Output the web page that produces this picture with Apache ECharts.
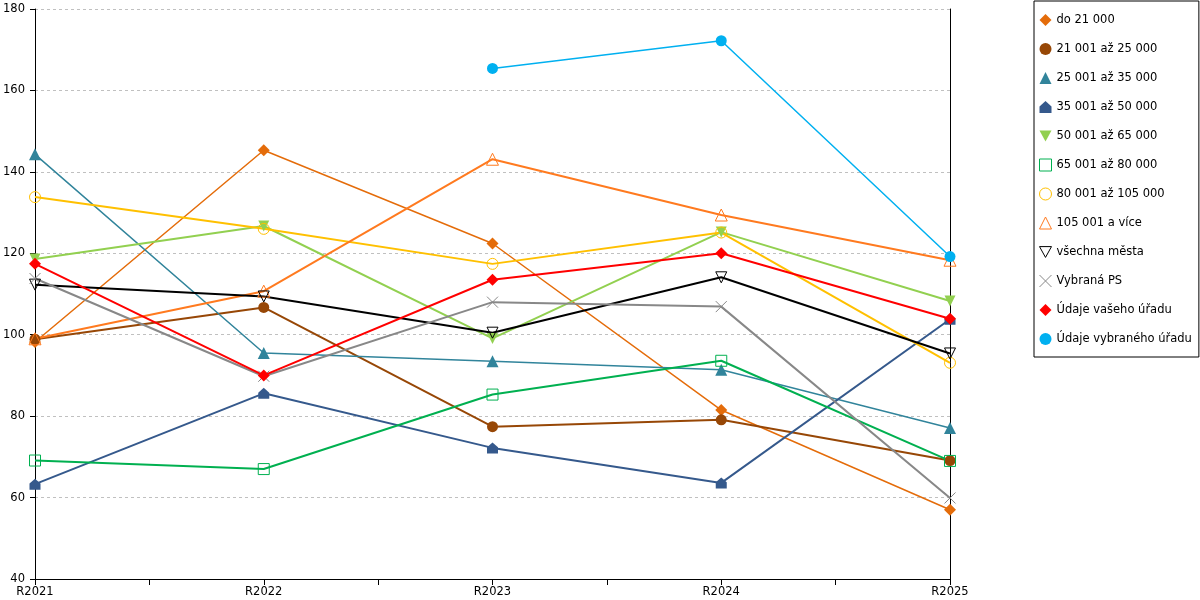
<!DOCTYPE html>
<html>
<head>
<meta charset="utf-8">
<script src="https://cdn.jsdelivr.net/npm/echarts@6/dist/echarts.min.js"></script>
<style>
  html, body { margin: 0; padding: 0; background: #fff; }
  #chart { width: 1200px; height: 600px; }
</style>
</head>
<body>
<div id="chart"></div>
<script>
const years = ['R2021', 'R2022', 'R2023', 'R2024', 'R2025'];

const do21000 = [98.2, 145.3, 122.4, 81.5, 57.0];
const s21to25 = [98.9, 106.7, 77.4, 79.1, 69.1];
const s25to35 = [144.3, 95.5, 93.5, 91.4, 77.1];
const s35to50 = [63.3, 85.6, 72.2, 63.6, 103.8];
const s50to65 = [118.6, 126.7, 99.1, 125.2, 108.3];
const s65to80 = [69.1, 67.0, 85.3, 93.6, 69.0];
const s80to105 = [133.8, 126.0, 117.4, 125.1, 93.1];
const s105plus = [99.0, 110.7, 143.1, 129.4, 118.3];
const vsechnaMesta = [112.3, 109.4, 100.5, 114.1, 95.4];
const vybranaPS = [113.8, 89.8, 108.0, 106.9, 59.9];
const vasUrad = [117.4, 90.0, 113.5, 120.0, 103.9];
const vybranyUrad = [null, null, 165.4, 172.2, 119.2];

const HOUSE = 'path://M5,0L10,4.5L10,10L0,10L0,4.5Z';
const DOWN = 'path://M0,0L10,0L5,9Z';
const CROSS = 'path://M0,0L10,10M10,0L0,10';

// name, data, colour, symbol, hollow, line width, symbol size
const seriesDefs = [
  ['do 21 000', do21000, '#E46C0A', 'diamond', false, 1.5, 12],
  ['21 001 až 25 000', s21to25, '#974706', 'circle', false, 2, 11],
  ['25 001 až 35 000', s25to35, '#31849B', 'triangle', false, 1.5, 12],
  ['35 001 až 50 000', s35to50, '#35598C', HOUSE, false, 2, 11],
  ['50 001 až 65 000', s50to65, '#92D050', DOWN, false, 2, 11],
  ['65 001 až 80 000', s65to80, '#00B050', 'rect', true, 2, 11],
  ['80 001 až 105 000', s80to105, '#FFC000', 'circle', true, 2, 11],
  ['105 001 a více', s105plus, '#FF7A1F', 'triangle', true, 2, 12],
  ['všechna města', vsechnaMesta, '#000000', DOWN, true, 2, 11],
  ['Vybraná PS', vybranaPS, '#888888', CROSS, true, 2, 11],
  ['Údaje vašeho úřadu', vasUrad, '#FF0000', 'diamond', false, 2, 12],
  ['Údaje vybraného úřadu', vybranyUrad, '#00B0F0', 'circle', false, 1.5, 11]
];

const FONT = 'DejaVu Sans';

const series = seriesDefs.map(([name, vals, color, symbol, hollow, width, size]) => ({
  name: name,
  type: 'line',
  data: vals.map((v, i) => [i, v]),
  symbol: symbol,
  symbolSize: size,
  showSymbol: true,
  connectNulls: false,
  lineStyle: { color: color, width: width },
  itemStyle: hollow
    ? { color: 'rgba(255,255,255,0)', borderColor: color, borderWidth: 1 }
    : { color: color, borderWidth: 0 },
  emphasis: { disabled: true },
  animation: false
}));

const chart = echarts.init(document.getElementById('chart'));
chart.setOption({
  backgroundColor: '#fff',
  textStyle: { fontFamily: FONT },
  grid: { left: 35, right: 250, top: 9, bottom: 21, containLabel: false },
  legend: {
    orient: 'vertical',
    left: 1034,
    top: 1,
    padding: [12, 7, 11, 5],
    itemGap: 15,
    itemWidth: 12,
    itemHeight: 12,
    itemStyle: { borderWidth: 1 },
    borderColor: '#000',
    borderWidth: 1,
    textStyle: { fontFamily: FONT, fontSize: 11.5, color: '#000', lineHeight: 14 },
    data: seriesDefs.map(d => ({
      name: d[0],
      icon: d[3],
      itemStyle: d[4] ? { borderWidth: 1 } : { borderWidth: 0 }
    })),
    selectedMode: false
  },
  xAxis: {
    type: 'value',
    min: 0,
    max: 4,
    interval: 0.5,
    axisLine: { show: true, onZero: false, lineStyle: { color: '#000', width: 1 } },
    axisTick: { show: true, length: 6, lineStyle: { color: '#000' } },
    axisLabel: {
      color: '#000',
      fontFamily: FONT,
      fontSize: 11.5,
      margin: 7,
      formatter: v => (Number.isInteger(v) ? years[v] : '')
    },
    splitLine: { show: false }
  },
  yAxis: [
    {
      type: 'value',
      min: 40,
      max: 180,
      interval: 20,
      axisLine: { show: true, lineStyle: { color: '#000', width: 1 } },
      axisTick: { show: true, length: 5, lineStyle: { color: '#000' } },
      axisLabel: { color: '#000', fontFamily: FONT, fontSize: 11.5, margin: 10 },
      splitLine: { show: true, lineStyle: { color: '#c0c0c0', type: [3, 3], width: 1 } }
    },
    {
      type: 'value',
      position: 'right',
      min: 40,
      max: 180,
      interval: 20,
      axisLine: { show: true, lineStyle: { color: '#000', width: 1 } },
      axisTick: { show: false },
      axisLabel: { show: false },
      splitLine: { show: false }
    }
  ],
  series: series
});
</script>
</body>
</html>
